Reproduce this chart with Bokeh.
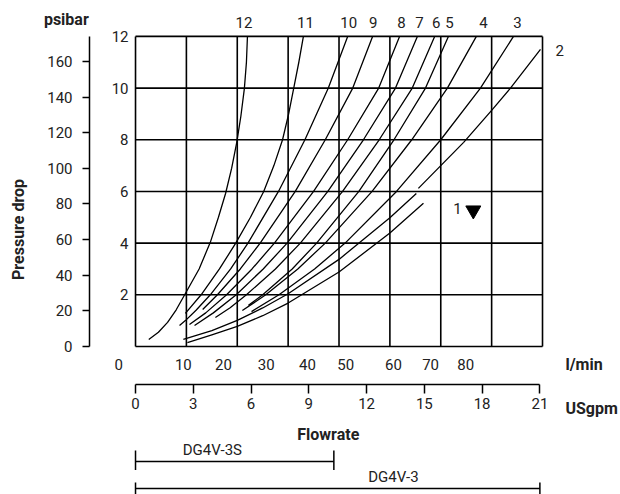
from bokeh.plotting import figure
from bokeh.models import Range1d, LinearAxis, FixedTicker, Grid
from bokeh.embed import file_html
from bokeh.resources import INLINE
from bokeh.core.properties import value
from math import pi

# ---------------- data ----------------
LPM_PER_GPM = 3.785
PSI_PER_BAR = 14.5038

lpm_grid = [0, 10, 20, 30, 40, 50, 60, 70, 80]
bar_grid = [0, 2, 4, 6, 8, 10, 12]
bar_ticks = [2, 4, 6, 8, 10, 12]
psi_ticks = [0, 20, 40, 60, 80, 100, 120, 140, 160]
gpm_ticks = [0, 3, 6, 9, 12, 15, 18, 21]
lpm_labels = ["0", "10", "20", "30", "40", "50", "60", "70", "80"]
lpm_label_pos = [-3.3, 9.4, 17.3, 25.7, 33.8, 41.3, 50.7, 58.0, 64.9]   # where printed (l/min)

curve_names = ["12", "11", "10", "9", "8", "7", "6", "5", "4", "3"]
curve_label_pos = [21.3, 33.4, 41.9, 46.7, 52.3, 55.8, 59.1, 61.7, 68.4, 75.1]

# flow (l/min) / pressure drop (bar)
c12_q = [2.6, 4.5, 6.3, 8.0, 9.8, 12.5, 14.7, 16.3, 17.7, 18.9, 19.9, 20.7, 21.4, 21.8, 22.0]
c12_p = [0.27, 0.55, 0.93, 1.42, 2.05, 3.0, 4.03, 5.0, 5.92, 6.9, 7.9, 8.9, 9.99, 11.0, 12.0]
c11_q = [9.8, 12.9, 16.5, 19.7, 22.6, 25.2, 27.2, 28.9, 30.1, 31.1, 32.1, 33.0]
c11_p = [1.28, 2.0, 3.0, 4.0, 5.0, 6.0, 7.0, 8.0, 9.0, 10.0, 11.0, 12.0]
c10_q = [8.65, 9.8, 11.9, 14.7, 18.7, 22.1, 28.1, 33.3, 37.9, 41.7]
c10_p = [0.81, 1.0, 1.4, 2.0, 3.0, 4.0, 6.0, 8.0, 10.0, 12.0]
c9_q = [13.2, 16.1, 20.6, 24.5, 31.4, 37.3, 42.7, 46.6]
c9_p = [1.43, 2.0, 3.0, 4.0, 6.0, 8.0, 10.0, 12.0]
c8_q = [10.6, 13.8, 17.9, 22.9, 27.3, 35.0, 41.7, 47.8, 51.9]
c8_p = [0.85, 1.3, 2.0, 3.0, 4.0, 6.0, 8.0, 10.0, 12.0]
c7_q = [11.6, 15.3, 19.8, 25.1, 29.8, 37.8, 44.8, 51.1, 55.4]
c7_p = [0.81, 1.3, 2.0, 3.0, 4.0, 6.0, 8.0, 10.0, 12.0]
c6_q = [15.7, 18.6, 21.8, 27.5, 32.4, 40.7, 47.9, 54.4, 58.8]
c6_p = [1.12, 1.5, 2.0, 3.0, 4.0, 6.0, 8.0, 10.0, 12.0]
c5_q = [22.2, 25.0, 30.8, 35.6, 43.9, 50.8, 57.0, 61.5]
c5_p = [1.59, 2.0, 3.0, 4.0, 6.0, 8.0, 10.0, 12.0]
c4_q = [21.0, 25.6, 31.9, 37.3, 46.5, 54.3, 61.3, 67.0]
c4_p = [1.39, 2.0, 3.0, 4.0, 6.0, 8.0, 10.0, 12.0]
c3_q = [22.8, 28.2, 35.2, 41.2, 51.3, 60.0, 67.8, 74.3]
c3_p = [1.35, 2.0, 3.0, 4.0, 6.0, 8.0, 10.0, 12.0]
c2a_q = [9.4, 15.0, 20.0, 25.0, 30.0, 40.0, 50.0, 55.2]
c2a_p = [0.27, 0.61, 1.01, 1.49, 2.04, 3.37, 4.98, 5.92]
c2b_q = [55.6, 64.5, 70.0, 73.7, 79.6]
c2b_p = [6.12, 7.9, 9.14, 10.0, 11.5]
c1_q = [10.2, 15.0, 20.0, 25.0, 30.0, 40.0, 50.0, 56.6]
c1_p = [0.15, 0.45, 0.78, 1.19, 1.68, 2.88, 4.39, 5.54]

valve_names = ["DG4V-3S", "DG4V-3"]
valve_max_gpm = [10.3, 21.0]

# ---------------- layout constants (screen placement) ----------------
X0, X1 = -26.54, 95.33      # l/min range spanning the canvas
Y0, Y1 = -5.73, 13.39       # bar range spanning the canvas
NUM_FONT = "Roboto"
TXT = "#222222"
NUM_SIZE = "15px"
BOLD_SIZE = "16px"

p = figure(width=620, height=494, output_backend="svg", toolbar_location=None,
           x_range=Range1d(X0, X1), y_range=Range1d(Y0, Y1),
           x_axis_location=None, y_axis_location=None, min_border=0,
           min_border_left=0, min_border_right=0, min_border_top=0, min_border_bottom=0,
           background_fill_color="white", border_fill_color="white")
p.outline_line_color = None
for r in p.center:
    if isinstance(r, Grid):
        r.visible = False
p.extra_x_ranges = {"gpm": Range1d(X0 / LPM_PER_GPM, X1 / LPM_PER_GPM)}
p.extra_y_ranges = {"psi": Range1d(Y0 * PSI_PER_BAR, Y1 * PSI_PER_BAR)}

# grid (also forms the chart border)
p.segment(x0=lpm_grid, y0=[bar_grid[0]] * len(lpm_grid), x1=lpm_grid,
          y1=[bar_grid[-1]] * len(lpm_grid), line_color="black", line_width=1.6)
p.segment(x0=[lpm_grid[0]] * len(bar_grid), y0=bar_grid, x1=[lpm_grid[-1]] * len(bar_grid),
          y1=bar_grid, line_color="black", line_width=1.6)

# bar axis (at left edge of grid)
bar_axis = LinearAxis(ticker=FixedTicker(ticks=bar_ticks), fixed_location=0, bounds=(0, 12),
                      axis_line_color=None, major_tick_line_color=None,
                      minor_tick_line_color=None, major_tick_in=0, major_tick_out=0,
                      major_label_standoff=7,
                      major_label_text_font=NUM_FONT, major_label_text_font_size=NUM_SIZE,
                      major_label_text_color=TXT)
p.add_layout(bar_axis, "left")

# psi axis
psi_axis = LinearAxis(y_range_name="psi", ticker=FixedTicker(ticks=psi_ticks),
                      fixed_location=-9.04, bounds=(0, 12 * PSI_PER_BAR),
                      axis_line_color="black", axis_line_width=1.5,
                      major_tick_line_color="black", major_tick_line_width=1.5,
                      major_tick_in=0, major_tick_out=7,
                      minor_tick_line_color=None, major_label_standoff=10,
                      major_label_text_font=NUM_FONT, major_label_text_font_size=NUM_SIZE,
                      major_label_text_color=TXT)
p.add_layout(psi_axis, "left")

# USgpm axis
gpm_axis = LinearAxis(x_range_name="gpm", ticker=FixedTicker(ticks=gpm_ticks),
                      fixed_location=-1.47, bounds=(0, 21),
                      axis_line_color="black", axis_line_width=1.5,
                      major_tick_line_color="black", major_tick_line_width=1.5,
                      major_tick_in=0, major_tick_out=9,
                      minor_tick_line_color=None, major_label_standoff=5,
                      major_label_text_font=NUM_FONT, major_label_text_font_size=NUM_SIZE,
                      major_label_text_color=TXT)
p.add_layout(gpm_axis, "below")

# curves
curves = [(c12_q, c12_p), (c11_q, c11_p), (c10_q, c10_p), (c9_q, c9_p), (c8_q, c8_p),
          (c7_q, c7_p), (c6_q, c6_p), (c5_q, c5_p), (c4_q, c4_p), (c3_q, c3_p),
          (c2a_q, c2a_p), (c2b_q, c2b_p), (c1_q, c1_p)]
p.multi_line(xs=[c[0] for c in curves], ys=[c[1] for c in curves],
             line_color="black", line_width=1.3, line_join="round")

num_style = dict(text_font=value(NUM_FONT), text_font_size=NUM_SIZE, text_color=TXT,
                 text_align="center", text_baseline="middle")
bold_style = dict(text_font=value(NUM_FONT), text_font_size=BOLD_SIZE, text_font_style="bold",
                  text_color=TXT, text_baseline="middle")

# curve numbers
p.text(x=curve_label_pos, y=[12.55] * len(curve_names), text=curve_names, **num_style)
p.text(x=[83.4], y=[11.46], text=["2"], **num_style)
p.text(x=[63.3], y=[5.34], text=["1"], **num_style)
p.scatter(x=[66.4], y=[5.27], marker="inverted_triangle", size=15, color="black")

# l/min row
p.text(x=lpm_label_pos, y=[-0.70] * len(lpm_labels), text=lpm_labels, **num_style)

# titles
p.text(x=[84.5], y=[-0.70], text=["l/min"], text_align="left", **bold_style)
p.text(x=[84.5], y=[-2.40], text=["USgpm"], text_align="left", **bold_style)
p.text(x=[37.9], y=[-3.41], text=["Flowrate"], text_align="center", **bold_style)
p.text(x=[-13.6], y=[12.66], text=["psibar"], text_align="center", **bold_style)
p.text(x=[-23.0], y=[4.53], text=["Pressure drop"], angle=pi / 2, text_align="center", **bold_style)

# valve range brackets (flow range in gpm -> l/min)
bracket_y = [-4.45, -5.50]
tee_lo = [-4.78, -5.80]
tee_hi = [-4.03, -5.27]
label_xy = [(15.1, -3.99), (50.7, -5.07)]
for name, gmax, by, lo, hi, (lx, ly) in zip(valve_names, valve_max_gpm, bracket_y, tee_lo, tee_hi, label_xy):
    x_end = gmax * LPM_PER_GPM
    p.segment(x0=[0, 0, x_end], y0=[by, lo, lo], x1=[x_end, 0, x_end], y1=[by, hi, hi],
              line_color="black", line_width=1.5)
    p.text(x=[lx], y=[ly], text=[name], **num_style)

open("out.html", "w").write(file_html(p, INLINE))
